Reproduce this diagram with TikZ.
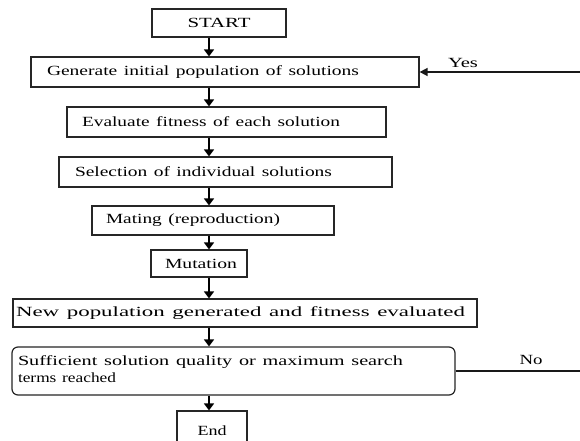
\documentclass[tikz,border=0pt]{standalone}
\usepackage{fontspec}
\setmainfont{Liberation Serif}
\usetikzlibrary{arrows.meta}
\newcommand\hfit[2]{\resizebox{#1}{\height}{#2}}
\begin{document}
\begin{tikzpicture}[x=1pt,y=-1pt,
  box/.style={draw=black!85, line width=1.2pt, fill=white, inner xsep=0pt, inner ysep=0pt,
    align=left, font=\fontsize{14}{17}\selectfont},
  lbl/.style={inner sep=0pt, font=\fontsize{14}{17}\selectfont},
  flow/.style={draw=black, line width=2.4pt, -{Triangle[width=10pt,length=7pt]}},
  loopline/.style={draw=black!90, line width=1.5pt},
  looparrow/.style={loopline, -{Triangle[width=8pt,length=8pt]}}]
\useasboundingbox (0,0) rectangle (580,441);
\fill[white] (0,0) rectangle (580,441);
\clip (0,0) rectangle (580,441);

\node[box, text width=134pt, minimum height=28pt, align=center] (start) at (219,23) {\hfit{63pt}{START}};
\node[box, text width=388pt, minimum height=30pt] (gen) at (225,72) {\hspace*{16pt}\hfit{312pt}{Generate initial population of solutions}};
\node[box, text width=319pt, minimum height=30pt] (eval) at (226.5,122) {\hspace*{15pt}\hfit{258pt}{Evaluate fitness of each solution}};
\node[box, text width=333pt, minimum height=30pt] (sel) at (225.5,172) {\hspace*{16pt}\hfit{257pt}{Selection of individual solutions}};
\node[box, text width=242pt, minimum height=29pt] (mate) at (213,220.5) {\hspace*{14pt}\hfit{174pt}{Mating (reproduction)}};
\node[box, text width=96pt, minimum height=27pt] (mut) at (199,263.5) {\hspace*{14pt}\hfit{72pt}{Mutation}};
\node[box, text width=464pt, minimum height=28pt] (newp) at (245,313) {\hspace*{3pt}\hfit{449pt}{New population generated and fitness evaluated}};
\node[box, text width=443pt, minimum height=48pt, rounded corners=6pt] (suff) at (233.5,371) {\hspace*{6pt}\begin{tabular}{@{}l@{}}\hfit{385pt}{Sufficient solution quality or maximum search}\\\hfit{98pt}{terms reached}\end{tabular}};
\node[box, text width=70pt, minimum height=40pt, align=center] (endn) at (212,431) {\hfit{29pt}{End}};

\coordinate (ax) at (209,0);
\draw[flow] (start.south -| ax) -- (gen.north -| ax);
\draw[flow] (gen.south -| ax) -- (eval.north -| ax);
\draw[flow] (eval.south -| ax) -- (sel.north -| ax);
\draw[flow] (sel.south -| ax) -- (mate.north -| ax);
\draw[flow] (mate.south -| ax) -- (mut.north -| ax);
\draw[flow] (mut.south -| ax) -- (newp.north -| ax);
\draw[flow] (newp.south -| ax) -- (suff.north -| ax);
\draw[flow] (suff.south -| ax) -- (endn.north -| ax);

\coordinate (yesend) at (582,72);
\draw[looparrow] (yesend) -- (gen.east);
\node[lbl] (yes) at (463,63) {\hfit{30pt}{Yes}};

\coordinate (noend) at (582,371);
\draw[loopline] (suff.east) -- (noend);
\node[lbl] (no) at (531,360) {\hfit{23pt}{No}};
\end{tikzpicture}
\end{document}
